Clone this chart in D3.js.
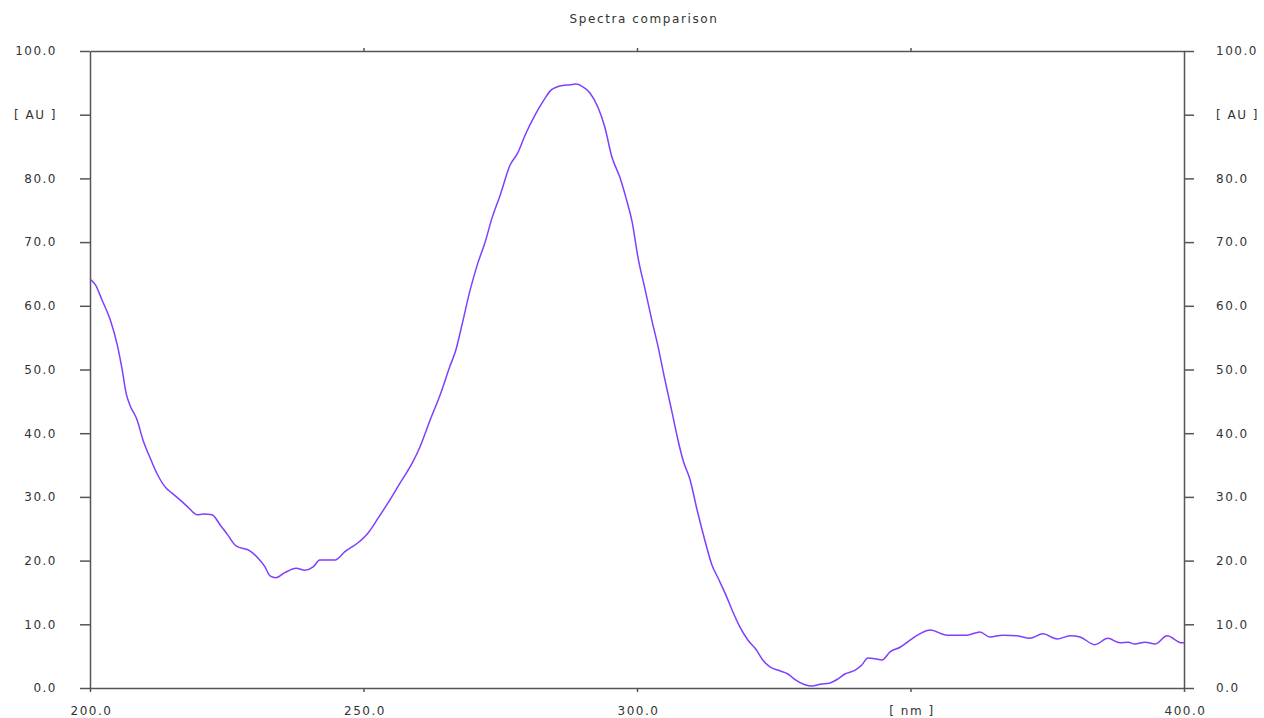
<!DOCTYPE html>
<html>
<head>
<meta charset="utf-8">
<script src="https://cdn.jsdelivr.net/npm/d3@7"></script>
<style>
  html, body { margin: 0; padding: 0; background: #fff; }
  svg { display: block; }
  text { font-family: "DejaVu Sans", Verdana, sans-serif; fill: #333; }
</style>
</head>
<body>
<svg id="chart" width="1264" height="718"></svg>
<script>
const title = "Spectra comparison";
const xTicks = [200, 250, 300, 350, 400];
const yTicks = [0, 10, 20, 30, 40, 50, 60, 70, 80, 90, 100];
const xUnitTick = 350, xUnitLabel = "[ nm ]";
const yUnitTick = 90, yUnitLabel = "[ AU ]";

const wavelength = [200,201,202.2,203.7,205,205.9,206.6,207.3,208.6,209.7,211,212.4,213.9,215,216.5,217.9,219.6,220.7,222.3,223.8,225.2,226.7,229.3,230.7,232,232.9,234,235.6,237.7,239.3,240.8,242,244.8,246.6,249,250.8,252.7,254.8,256.7,258.9,260.3,262.2,264,265.8,266.9,268,269.5,270.9,272.2,273.5,275,276.8,278.2,279.5,281.4,283.2,284.1,285.9,287.8,288.8,289.9,291.4,292.9,294.1,295.4,296.9,298,299.1,300.2,301.5,302.7,303.8,305.1,306.4,307.5,308.4,309.7,311,312.4,313.7,314.8,316.1,317.4,318.8,320.3,321.8,323,324.3,326.1,327.6,328.9,330.7,332,333.5,335.3,336.7,338,339.9,341.1,342.2,343.5,344.8,346.3,348.1,349.9,351.7,353.6,356.7,360.3,362.7,364.5,366.9,369.5,371.8,374.2,376.8,379.2,381,383.7,386.1,388.3,389.8,391,392.9,394.7,396.9,399.6,400];
const absorbance = [64.2,63.3,60.9,57.8,53.8,49.9,46.3,44.4,42.1,38.9,36.1,33.4,31.4,30.6,29.5,28.4,27.2,27.3,27.2,25.6,24.0,22.3,21.5,20.4,19.0,17.6,17.3,18.1,18.8,18.5,19.0,20.1,20.1,21.4,22.8,24.3,26.7,29.5,32.2,35.3,37.8,42.1,46.0,50.5,53.1,57.0,62.5,66.7,69.9,73.8,77.4,82.1,84.0,86.7,90.0,92.6,93.7,94.5,94.7,94.8,94.5,93.4,91.1,88.1,83.4,80.1,76.9,73.2,67.5,62.5,57.8,53.8,48.4,43.3,38.9,35.8,32.7,27.9,23.2,19.3,17.3,14.9,12.2,9.6,7.5,6.0,4.4,3.3,2.7,2.2,1.3,0.5,0.3,0.6,0.8,1.4,2.2,2.8,3.6,4.7,4.6,4.4,5.7,6.4,7.5,8.5,9.1,8.3,8.3,8.8,8.0,8.3,8.2,7.8,8.5,7.7,8.2,8.0,6.8,7.8,7.1,7.2,6.9,7.2,6.9,8.2,7.1,7.1];

const svg = d3.select("#chart");
const mLeft = 90, mRight = 1184, mTop = 51, mBottom = 688;
const x = d3.scaleLinear().domain([200, 400]).range([mLeft, mRight]);
const y = d3.scaleLinear().domain([0, 100]).range([mBottom, mTop]);
const axisColor = "#555";

function styleAxis(g) {
  g.selectAll("path.domain").attr("stroke", axisColor).attr("stroke-width", 1.5);
  g.selectAll(".tick line").attr("stroke", axisColor).attr("stroke-width", 1.5);
  g.selectAll(".tick text").style("font-family", "'DejaVu Sans', Verdana, sans-serif")
    .style("font-size", "12px").style("letter-spacing", "1.5px").attr("fill", "#333");
}

const yFmt = d => d === yUnitTick ? yUnitLabel : d3.format(".1f")(d);
const xFmt = d => d === xUnitTick ? xUnitLabel : d3.format(".1f")(d);

svg.append("g").attr("transform", `translate(${mLeft},0)`)
  .call(d3.axisLeft(y).tickValues(yTicks).tickFormat(yFmt).tickSize(10).tickSizeOuter(0).tickPadding(23))
  .call(styleAxis);
svg.append("g").attr("transform", `translate(${mRight},0)`)
  .call(d3.axisRight(y).tickValues(yTicks).tickFormat(yFmt).tickSize(10).tickSizeOuter(0).tickPadding(22))
  .call(styleAxis);
const xg = svg.append("g").attr("transform", `translate(0,${mBottom})`)
  .call(d3.axisBottom(x).tickValues(xTicks).tickFormat(xFmt).tickSize(4).tickSizeOuter(0).tickPadding(14))
  .call(styleAxis);
xg.selectAll(".tick text").attr("dx", "1px");
svg.append("g").attr("transform", `translate(0,${mTop})`)
  .call(d3.axisTop(x).tickValues(xTicks.slice(1, -1)).tickFormat("").tickSize(3).tickSizeOuter(0))
  .call(styleAxis);

svg.append("text").attr("x", 644).attr("y", 23).attr("text-anchor", "middle")
  .style("font-size", "12px").style("letter-spacing", "1.6px").text(title);

const line = d3.line().x((d, i) => x(wavelength[i])).y(d => y(d)).curve(d3.curveMonotoneX);
svg.append("path").datum(absorbance)
  .attr("d", line).attr("fill", "none").attr("stroke", "#7f3fff").attr("stroke-width", 1.5);
</script>
</body>
</html>
